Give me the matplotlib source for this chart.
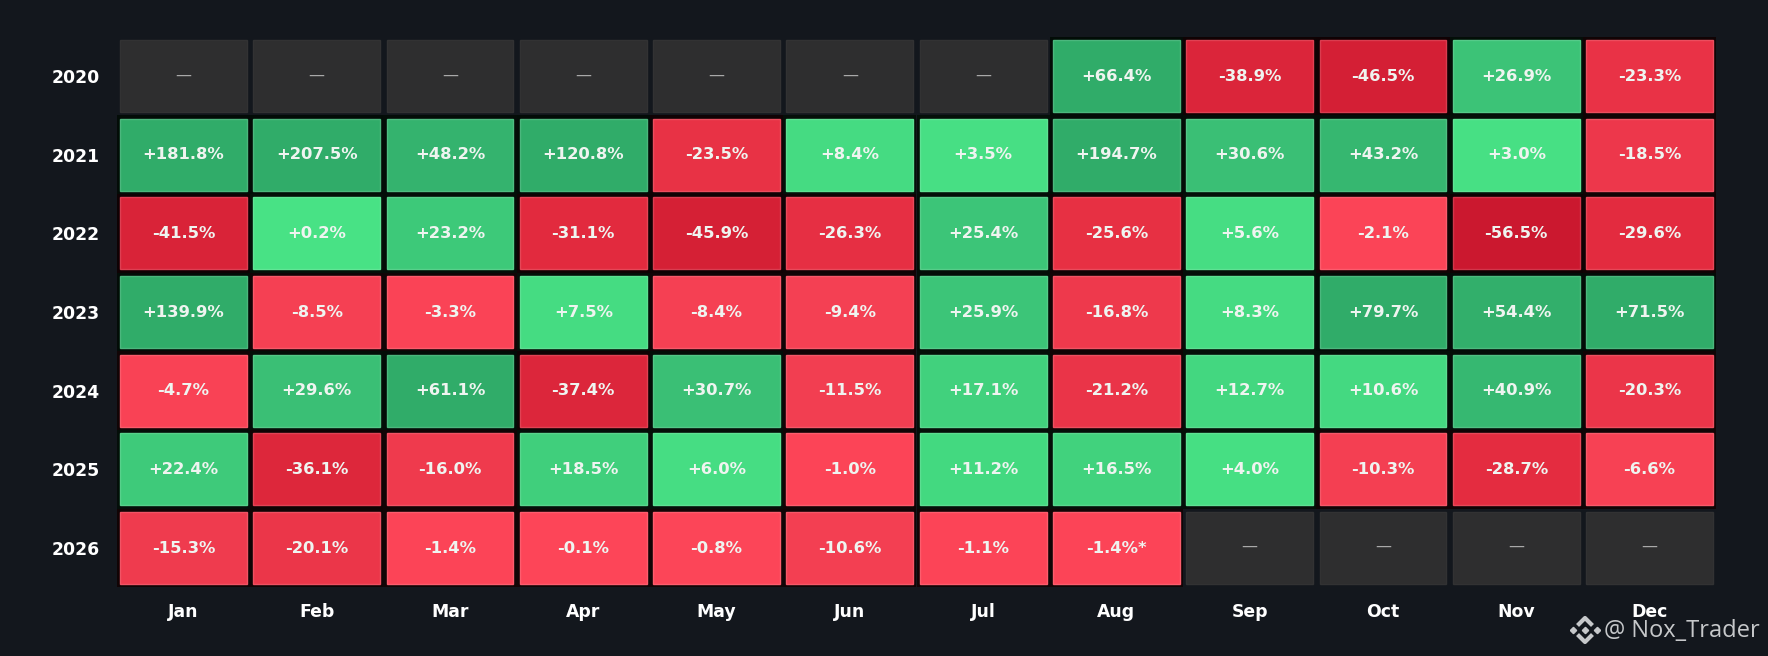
import matplotlib
matplotlib.use('Agg')
import matplotlib.pyplot as plt
import numpy as np
from matplotlib.colors import LinearSegmentedColormap, to_rgb
from matplotlib.patches import Rectangle

months = ['Jan', 'Feb', 'Mar', 'Apr', 'May', 'Jun', 'Jul', 'Aug', 'Sep', 'Oct', 'Nov', 'Dec']
years = [2020, 2021, 2022, 2023, 2024, 2025, 2026]

nan = np.nan
r2020 = [nan, nan, nan, nan, nan, nan, nan, 66.4, -38.9, -46.5, 26.9, -23.3]
r2021 = [181.8, 207.5, 48.2, 120.8, -23.5, 8.4, 3.5, 194.7, 30.6, 43.2, 3.0, -18.5]
r2022 = [-41.5, 0.2, 23.2, -31.1, -45.9, -26.3, 25.4, -25.6, 5.6, -2.1, -56.5, -29.6]
r2023 = [139.9, -8.5, -3.3, 7.5, -8.4, -9.4, 25.9, -16.8, 8.3, 79.7, 54.4, 71.5]
r2024 = [-4.7, 29.6, 61.1, -37.4, 30.7, -11.5, 17.1, -21.2, 12.7, 10.6, 40.9, -20.3]
r2025 = [22.4, -36.1, -16.0, 18.5, 6.0, -1.0, 11.2, 16.5, 4.0, -10.3, -28.7, -6.6]
r2026 = [-15.3, -20.1, -1.4, -0.1, -0.8, -10.6, -1.1, -1.4, nan, nan, nan, nan]
rows = [r2020, r2021, r2022, r2023, r2024, r2025, r2026]

BG = '#13171d'
W, H = 1768, 656

# colour ramps, value / 60 clipped to 0..1
greens = LinearSegmentedColormap.from_list('g', [(0, '#48e285'), (0.2, '#43d880'), (0.5, '#3abf75'), (1, '#30ac69')])
reds = LinearSegmentedColormap.from_list('r', [(0, '#fd4558'), (0.2, '#f23e51'), (0.5, '#e32b3f'), (1, '#c8162d')])


def cell_color(v):
    if np.isnan(v):
        return '#2e2e2f'
    if v >= 0:
        return greens(min(v / 60, 1.0))
    return reds(min(-v / 60, 1.0))


def mix(c, other, t):
    a = np.array(to_rgb(c))
    b = np.array(to_rgb(other))
    return tuple(a * (1 - t) + b * t)


fig = plt.figure(figsize=(W / 100, H / 100), dpi=100, facecolor=BG)
ax = fig.add_axes([116.75 / W, 1 - 587.25 / H, 1599.5 / W, 550.5 / H])
ax.set_facecolor(BG)
ax.set_xlim(-0.5, 11.5)
ax.set_ylim(6.5, -0.5)

cw, ch = 0.951, 0.917
for i, row in enumerate(rows):
    for j, v in enumerate(row):
        c = cell_color(v)
        if np.isnan(v):
            edge = '#323233'
        else:
            # dark tinted halo in the gaps
            ax.add_patch(Rectangle((j - 0.5, i - 0.5), 1, 1, fc=mix(c, 'black', 0.93), ec='none', zorder=1))
            edge = mix(c, 'white', 0.13)
        ax.add_patch(Rectangle((j - cw / 2, i - ch / 2), cw, ch, fc=c, ec=edge, lw=1.0, zorder=2))
        if np.isnan(v):
            ax.text(j, i - 0.015, '—', color='#a9a9a9', fontsize=11.5, ha='center', va='center', zorder=3)
        else:
            label = f'{v:+.1f}%'
            if years[i] == 2026 and months[j] == 'Aug':
                label += '*'
            ax.text(j, i + 0.002, label, color='#eff4f0', fontsize=11.8, fontweight='bold',
                    ha='center', va='center', zorder=3)

ax.set_xticks(range(12), months)
ax.set_yticks(range(7), [str(y) for y in years])
ax.tick_params(length=0, labelcolor='white', labelsize=12.4, pad=0)
ax.tick_params(axis='x', pad=11.5)
ax.tick_params(axis='y', pad=12)
for t in ax.get_xticklabels() + ax.get_yticklabels():
    t.set_fontweight('bold')
for s in ax.spines.values():
    s.set_visible(False)

# watermark
fig.text(1604 / W, 1 - 631 / H, '@ Nox_Trader', color='#c6c8ca', fontsize=17, family='Open Sans',
         ha='left', va='center')
logo = fig.add_axes([1570 / W, 1 - 646 / H, 30 / W, 32 / H])
logo.axis('off')
logo.set_xlim(-15, 15)
logo.set_ylim(-16, 16)
logo.plot([0, -12, 12], [0, 0, 0], 'D', color='#c6c8ca', ms=3.2, ls='none')
logo.plot([-6, 0, 6], [6, 12, 6], color='#c6c8ca', lw=3.0)
logo.plot([-6, 0, 6], [-6, -12, -6], color='#c6c8ca', lw=3.0)

fig.savefig('out.png', dpi=100, facecolor=BG)
